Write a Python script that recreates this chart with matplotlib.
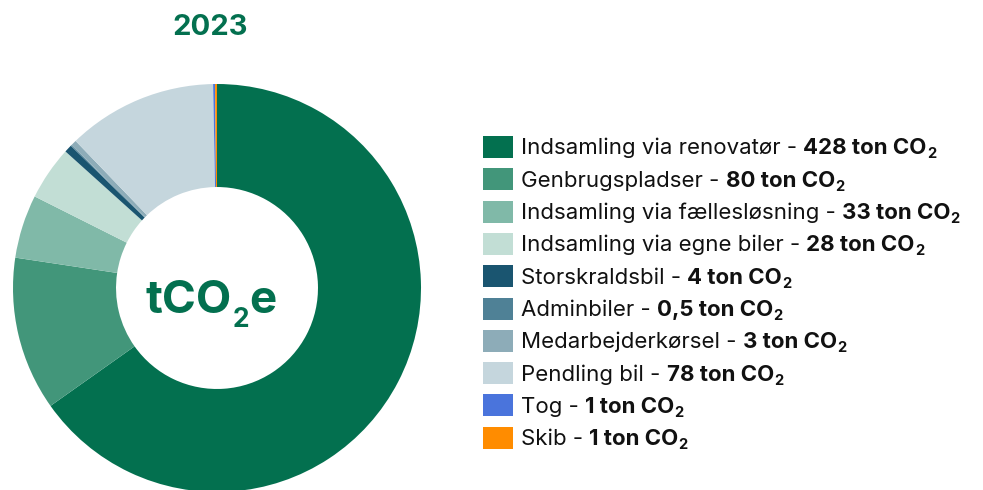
import matplotlib
matplotlib.use("Agg")
import matplotlib.pyplot as plt
from matplotlib.patches import Rectangle

categories = ["Indsamling via renovatør", "Genbrugspladser", "Indsamling via fællesløsning",
              "Indsamling via egne biler", "Storskraldsbil", "Adminbiler",
              "Medarbejderkørsel", "Pendling bil", "Tog", "Skib"]
values = [428, 80, 33, 28, 4, 0.5, 3, 78, 1, 1]
value_labels = ["428", "80", "33", "28", "4", "0,5", "3", "78", "1", "1"]
colors = ["#03704F", "#42967A", "#80B9A8", "#C2DED5", "#1A5570", "#4F8196",
          "#8DACB8", "#C5D6DD", "#4A74DC", "#FF8C00"]
title = "2023"

FONT = "Inter"
GREEN = "#03704F"
W, H = 983, 490
fig = plt.figure(figsize=(W / 100, H / 100), dpi=100)

cx, cy, R = 217, 288, 204
ax = fig.add_axes([(cx - R) / W, (H - cy - R) / H, 2 * R / W, 2 * R / H])
ax.pie(values, colors=colors, startangle=90, counterclock=False,
       radius=1, wedgeprops=dict(width=0.505, linewidth=0))
ax.set_xlim(-1, 1)
ax.set_ylim(-1, 1)
ax.set_aspect("auto")
ax.axis("off")

renderer = fig.canvas.get_renderer()

def px(x, y):
    return x / W, 1 - y / H

def put(x, y, s, size, weight="normal", color="#111111", va="baseline"):
    t = fig.text(*px(x, y), s, fontsize=size, fontweight=weight, color=color,
                 family=FONT, va=va, ha="left")
    bb = t.get_window_extent(renderer=renderer)
    return x + bb.width

# title
fig.text(*px(210, 35), title, fontsize=21, fontweight="bold", color=GREEN,
         family=FONT, ha="center", va="baseline")

# center label tCO2e
parts = [("tCO", 33, 0), ("2", 19, 14), ("e", 33, 0)]
widths = []
for s, sz, off in parts:
    tt = fig.text(0, 0, s, fontsize=sz, fontweight="bold", family=FONT)
    widths.append(tt.get_window_extent(renderer=renderer).width)
    tt.remove()
x = 211 - sum(widths) / 2
for (s, sz, off), w in zip(parts, widths):
    put(x, 313 + off, s, sz, "bold", GREEN)
    x += w

# legend
y0, dy = 147, 32.3
fs = 16
for i, (cat, lab, col) in enumerate(zip(categories, value_labels, colors)):
    yc = y0 + i * dy
    fig.add_artist(Rectangle(px(483, yc + 11), 30 / W, 22 / H, transform=fig.transFigure,
                             facecolor=col, edgecolor="none"))
    base = yc + 7.5
    x = put(521, base, cat + " - ", fs)
    x = put(x, base, lab + " ton CO", fs, "bold")
    put(x, base + 4, "2", fs * 0.66, "bold")

fig.savefig("out.png", dpi=100)
